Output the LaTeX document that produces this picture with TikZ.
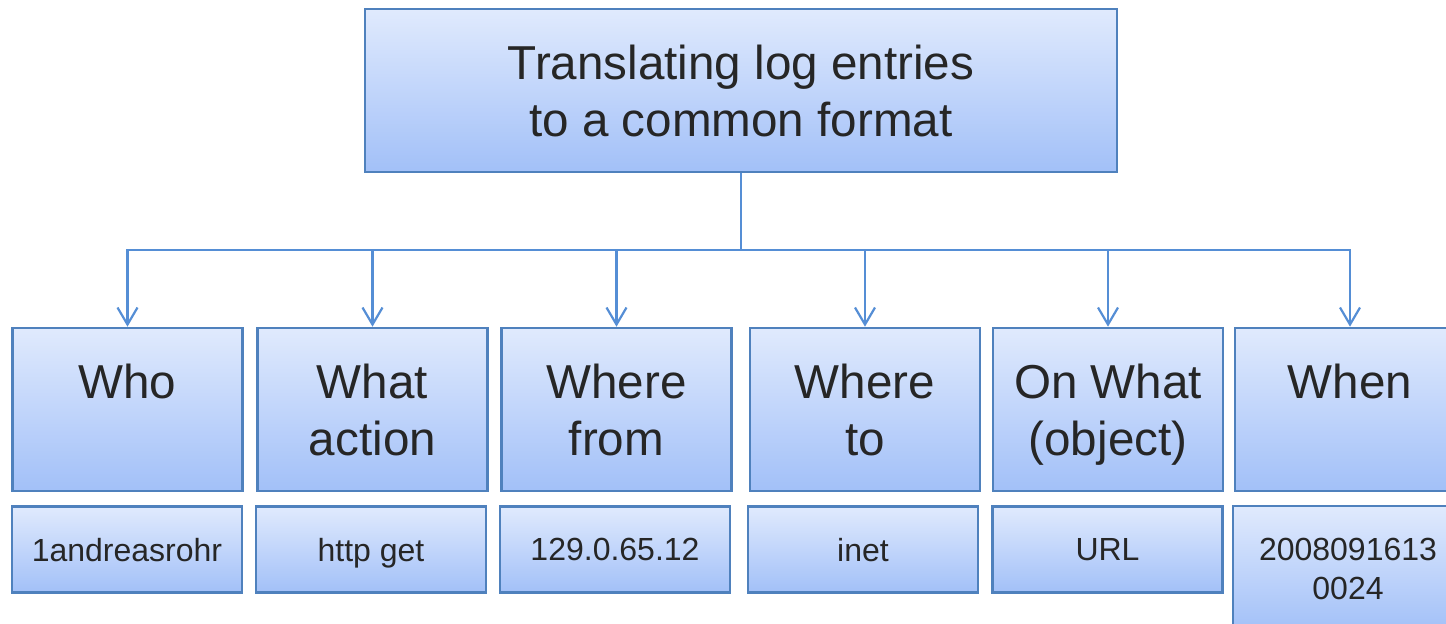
\documentclass[tikz,border=0pt]{standalone}
\usepackage{fontspec}
\setmainfont{Liberation Sans}
\usetikzlibrary{arrows.meta}

\definecolor{boxline}{HTML}{4F81BD}
\definecolor{boxtop}{HTML}{E0EAFD}
\definecolor{boxbot}{HTML}{A2C0F8}
\definecolor{linkblue}{HTML}{558ED5}
\definecolor{ink}{HTML}{262626}

\begin{document}
\begin{tikzpicture}[x=0.5pt, y=-0.5pt,
    box/.style={draw=boxline, line width=1.3pt, top color=boxtop, bottom color=boxbot,
        text=ink, align=center, inner sep=0pt, text depth=0pt},
    field/.style={box, minimum width=115pt, minimum height=81.5pt, font=\fontsize{23.8}{28.5}\selectfont},
    value/.style={box, minimum width=115pt, minimum height=43pt, font=\fontsize{16}{19.5}\selectfont},
    link/.style={draw=linkblue, line width=1.1pt, -{Straight Barb[length=8.5pt,width=10pt]}}]
    \path[use as bounding box, clip] (0,0) rectangle (1446,624);

    \node[box, minimum width=376pt, minimum height=81.5pt, font=\fontsize{23.8}{28.5}\selectfont]
        at (741,90.5) (head) {Translating log entries\\to a common format};

    \node[field] at (127.5,409.5)  (who)    {Who\\\mbox{}};
    \node[field] at (372.5,409.5)  (action) {What\\action};
    \node[field] at (616.5,409.5)  (wfrom)  {Where\\from};
    \node[field] at (865,409.5)    (wto)    {Where\\to};
    \node[field] at (1108,409.5)   (object) {On What\\(object)};
    \node[field] at (1350,409.5)   (when)   {When\\\mbox{}};

    \node[value] at (127,549.5)    (whoval)    {1andreasrohr};
    \node[value] at (371,549.5)    (actionval) {http get};
    \node[value] at (615,549.5)    (fromval)   {129.0.65.12};
    \node[value] at (863,549.5)    (toval)     {inet};
    \node[value] at (1107.5,549.5) (objectval) {URL};
    \node[value, minimum height=63pt] at (1348,569) (whenval) {2008091613\\0024};

    \coordinate (bus) at (741,250);
    \draw[draw=linkblue, line width=1.1pt] (head) -- (bus);
    \draw[link] (bus) -| (who);
    \draw[link] (bus) -| (action);
    \draw[link] (bus) -| (wfrom);
    \draw[link] (bus) -| (wto);
    \draw[link] (bus) -| (object);
    \draw[link] (bus) -| (when);
\end{tikzpicture}
\end{document}
